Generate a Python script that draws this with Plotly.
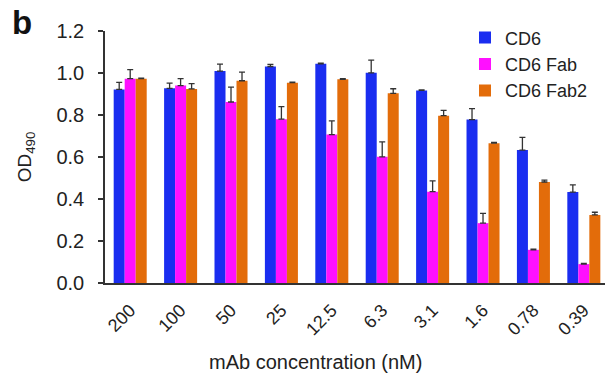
import plotly.graph_objects as go

categories = ["200", "100", "50", "25", "12.5", "6.3", "3.1", "1.6", "0.78", "0.39"]
cd6 = [0.922, 0.927, 1.009, 1.031, 1.044, 1.001, 0.917, 0.778, 0.633, 0.433]
cd6_err = [0.033, 0.025, 0.033, 0.010, 0.003, 0.060, 0.003, 0.052, 0.060, 0.034]
fab = [0.973, 0.940, 0.862, 0.780, 0.707, 0.601, 0.435, 0.285, 0.158, 0.090]
fab_err = [0.043, 0.033, 0.071, 0.060, 0.065, 0.071, 0.051, 0.047, 0.003, 0.003]
fab2 = [0.973, 0.924, 0.963, 0.954, 0.970, 0.903, 0.797, 0.666, 0.481, 0.324]
fab2_err = [0.003, 0.025, 0.041, 0.003, 0.003, 0.022, 0.025, 0.003, 0.009, 0.013]

series = [
    ("CD6", cd6, cd6_err, "#1a2df0"),
    ("CD6 Fab", fab, fab_err, "#ff10ff"),
    ("CD6 Fab2", fab2, fab2_err, "#e36c0a"),
]

fig = go.Figure()
for name, vals, errs, col in series:
    fig.add_trace(go.Bar(
        x=categories, y=vals, name=name,
        marker=dict(color=col, line=dict(width=0)),
        error_y=dict(type="data", array=errs, symmetric=False, arrayminus=[0]*len(errs),
                     color="#333333", thickness=1.3, width=3),
    ))

fig.update_layout(
    width=605, height=375,
    margin=dict(l=105, r=0, t=31, b=92),
    paper_bgcolor="white", plot_bgcolor="white",
    barmode="group", bargap=0.345, bargroupgap=0,
    font=dict(family="Arial, Liberation Sans, sans-serif", color="#222222", size=18),
    showlegend=True,
    legend=dict(x=0.72, y=1.046, xanchor="left", yanchor="top",
                font=dict(size=18), bgcolor="rgba(0,0,0,0)",
                itemwidth=30, tracegroupgap=0, borderwidth=0),
    xaxis=dict(
        type="category", range=[-0.5, 9.42], automargin=False,
        showline=True, linecolor="#333333", linewidth=1.5,
        ticks="", tickangle=-45, tickfont=dict(size=18), ticklabelstandoff=8,
        showgrid=False, zeroline=False,
    ),
    yaxis=dict(
        range=[0, 1.2], dtick=0.2, tickformat=".1f", automargin=False,
        showline=True, linecolor="#333333", linewidth=1.5,
        ticks="outside", ticklen=5, tickcolor="#333333", tickwidth=1.5,
        tickfont=dict(size=20), ticklabelstandoff=10,
        title=dict(text="OD<sub>490</sub>", font=dict(size=19), standoff=20),
        showgrid=False, zeroline=False,
    ),
)

# x-axis title (centered where the reference places it)
fig.add_annotation(text="mAb concentration (nM)", xref="paper", yref="paper",
                   x=0.42, y=-0.312, xanchor="center", yanchor="middle",
                   showarrow=False, font=dict(size=20, color="#222222"))

fig.add_annotation(text="<b>b</b>", xref="paper", yref="paper", x=-0.19, y=1.115,
                   xanchor="left", yanchor="top", showarrow=False,
                   font=dict(size=33, color="#111111"))

fig.write_html("out.html", config={"displayModeBar": False},
               post_script="document.body.style.margin='0';")
